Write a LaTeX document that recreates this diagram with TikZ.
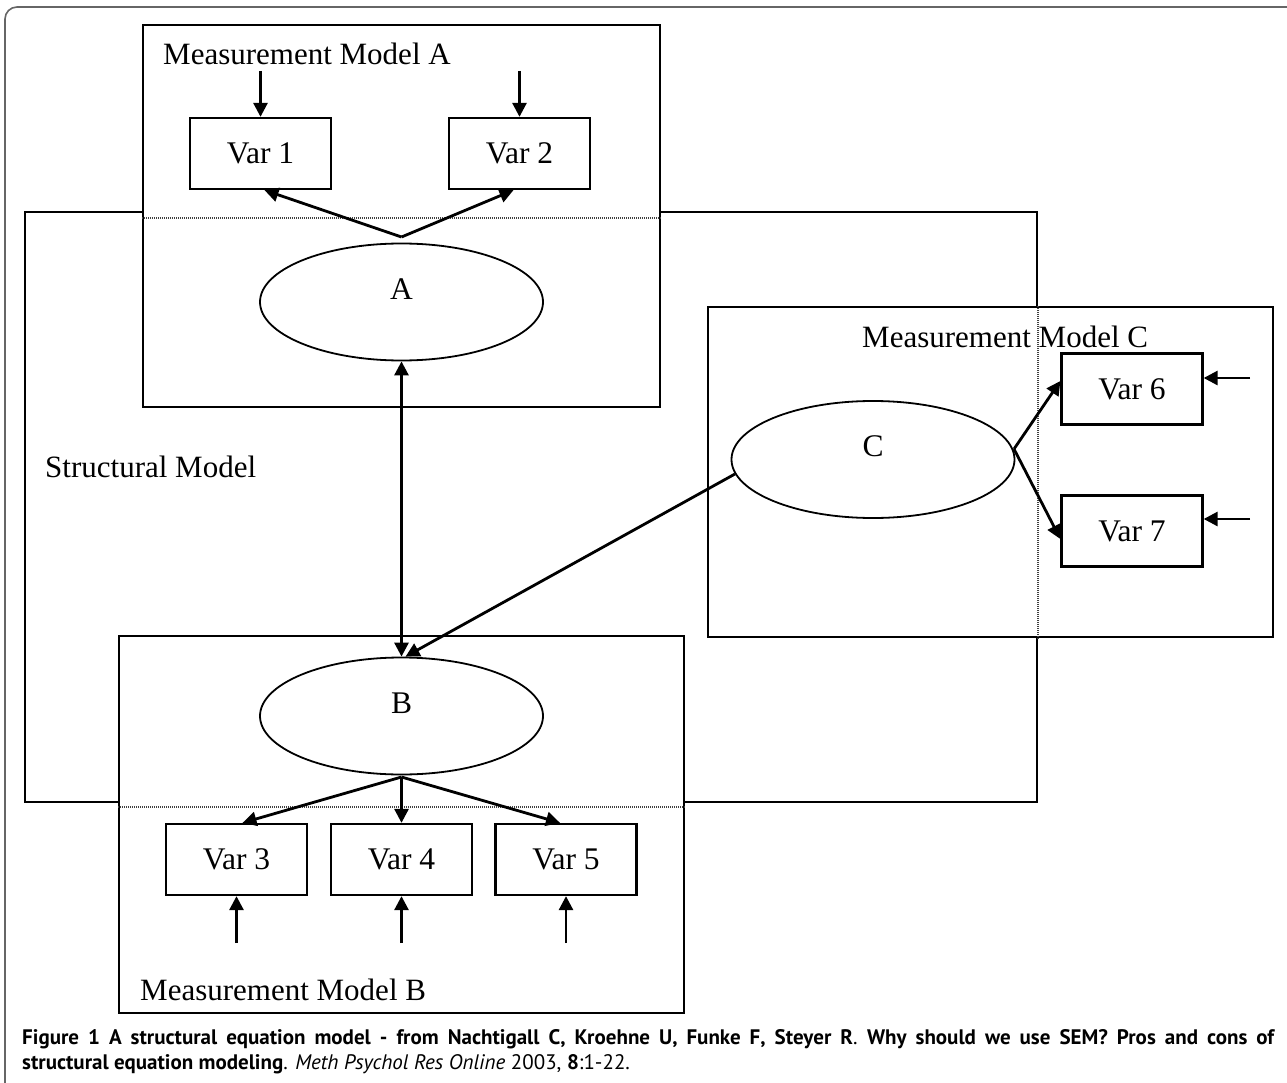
\documentclass[tikz,border=0pt]{standalone}
\usepackage{fontspec}
\setmainfont{Liberation Serif}
\newfontfamily\capfont{PT Sans}
\usetikzlibrary{arrows.meta,shapes.geometric}
\begin{document}
\begin{tikzpicture}[x=1pt,y=-1pt]
\tikzset{
 mframe/.style={draw, line width=2.4pt, fill=white, inner sep=0pt},
 varbox/.style={draw, line width=2.3pt, minimum width=141pt, minimum height=71pt, inner sep=0pt, font=\fontsize{31.5}{36}\selectfont},
 latent/.style={draw, ellipse, line width=1.8pt, minimum width=283pt, minimum height=117pt, inner sep=0pt},
 lat/.style={label={[font=\fontsize{31.5}{36}\selectfont, yshift=13pt]center:#1}},
 ttl/.style={font=\fontsize{31}{36}\selectfont, inner sep=0pt, anchor=base west},
 arr/.style={line width=2.8pt, -{Triangle[length=14pt,width=14pt]}},
 darr/.style={line width=2.8pt, {Triangle[length=14pt,width=14pt]}-{Triangle[length=14pt,width=14pt]}},
 sepline/.style={line width=1.3pt, dash pattern=on 1pt off 1pt, black!75},
}
\clip (0,0) rectangle (1287,1083);
\fill[white] (0,0) rectangle (1287,1083);
% outer frame
\draw[black!60, line width=1.6pt, rounded corners=12pt] (5,7) rectangle (1310,1100);
% structural model frame
\node[mframe, fill=none, minimum width=1012pt, minimum height=590pt] (SM) at (531,507) {};
% measurement model frames
\node[mframe, minimum width=517pt, minimum height=382pt] (MA) at (401.5,216) {};
\node[mframe, minimum width=565pt, minimum height=377pt] (MB) at (401.5,824.5) {};
\node[mframe, minimum width=565pt, minimum height=330pt] (MC) at (990.5,472) {};
% dotted parts of the structural frame
\draw[sepline] (MA.west |- 0,218) -- (MA.east |- 0,218);
\draw[sepline] (MB.west |- 0,807) -- (MB.east |- 0,807);
\draw[sepline] (1038,0 |- MC.north) -- (1038,0 |- MC.south);
% titles
\node[ttl] (tA) at (163,65) {Measurement Model A};
\node[ttl] (tB) at (140,1000) {Measurement Model B};
\node[ttl] (tC) at (862,347) {Measurement Model C};
\node[ttl] (tS) at (45,477) {Structural Model};
% latent variables
\node[latent, lat=A] (A) at (401.5,302) {};
\node[latent, lat=B] (B) at (401.5,716) {};
\node[latent, lat=C] (C) at (873,459.5) {};
% manifest variables
\node[varbox] (v1) at (260.5,153.5) {Var 1};
\node[varbox] (v2) at (519.5,153.5) {Var 2};
\node[varbox] (v3) at (236.5,859.5) {Var 3};
\node[varbox] (v4) at (401.5,859.5) {Var 4};
\node[varbox] (v5) at (566,859.5) {Var 5};
\node[varbox] (v6) at (1132,389) {Var 6};
\node[varbox] (v7) at (1132,531) {Var 7};
% error terms
\coordinate (e1) at (260.5,71);
\coordinate (e2) at (519.5,71);
\coordinate (e3) at (236.5,943);
\coordinate (e4) at (401.5,943);
\coordinate (e5) at (566,943);
\coordinate (e6) at (1250,378);
\coordinate (e7) at (1250,519);
\draw[arr] (e1) -- (v1.north);
\draw[arr] (e2) -- (v2.north);
\draw[arr] (e3) -- (v3.south);
\draw[arr] (e4) -- (v4.south);
\draw[arr] (e5) -- (v5.south);
\draw[arr] (e6) -- (e6 -| v6.east);
\draw[arr] (e7) -- (e7 -| v7.east);
% loadings
\coordinate (apA) at (401.5,237);
\draw[arr] (apA) -- ([xshift=4pt]v1.south);
\draw[arr] (apA) -- ([xshift=-6pt]v2.south);
\coordinate (apB) at (401.5,777);
\draw[arr] (apB) -- ([xshift=6pt]v3.north);
\draw[arr] (apB) -- (v4.north);
\draw[arr] (apB) -- ([xshift=-6pt]v5.north);
\coordinate (apC) at (1014,449);
\draw[arr] (apC) -- ([yshift=8pt]v6.west);
\draw[arr] (apC) -- ([yshift=-8pt]v7.west);
% structural paths
\draw[darr] (A.south) -- (B.north);
\draw[arr] (C.186) -- ([xshift=4pt]B.north);
% caption
\node[anchor=north west, inner sep=0pt, text width=1253pt, align=justify,
      font=\capfont\fontsize{21}{25}\selectfont] (cap) at (22,1029)
 {\hyphenpenalty=10000 \textbf{Figure 1 A structural equation model - from Nachtigall C, Kroehne U, Funke F, Steyer R}. \textbf{Why should we use SEM? Pros and cons of}\linebreak \textbf{structural equation modeling}. \textit{Meth Psychol Res Online} 2003, \textbf{8}:1-22.};
\end{tikzpicture}
\end{document}
